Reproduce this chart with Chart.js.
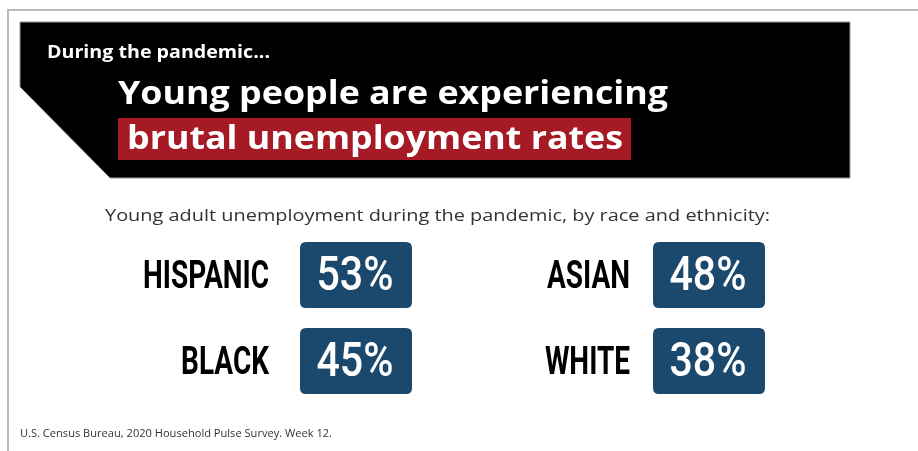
<!DOCTYPE html>
<html>
<head>
<meta charset="utf-8">
<script src="https://cdn.jsdelivr.net/npm/chart.js@4.4.1/dist/chart.umd.min.js"></script>
<style>
  html, body { margin: 0; padding: 0; background: #fff; }
  #wrap { width: 918px; height: 451px; position: relative; }
</style>
</head>
<body>
<div id="wrap"><canvas id="myChart"></canvas></div>
<script>
// data
const groups = ['HISPANIC', 'BLACK', 'ASIAN', 'WHITE'];
const rates = [53, 45, 48, 38];
// where each group sits in the 2x2 grid
const gridCol = [0, 0, 1, 1];
const gridRow = [0, 1, 0, 1];

const kicker = 'During the pandemic...';
const headline1 = 'Young people are experiencing';
const headline2 = 'brutal unemployment rates';
const subtitle = 'Young adult unemployment during the pandemic, by race and ethnicity:';
const source = 'U.S. Census Bureau, 2020 Household Pulse Survey. Week 12.';

const BLUE = '#1b486d';
const RED = '#a51a24';

function roundRect(ctx, x, y, w, h, r) {
    ctx.beginPath();
    ctx.moveTo(x + r, y);
    ctx.lineTo(x + w - r, y);
    ctx.quadraticCurveTo(x + w, y, x + w, y + r);
    ctx.lineTo(x + w, y + h - r);
    ctx.quadraticCurveTo(x + w, y + h, x + w - r, y + h);
    ctx.lineTo(x + r, y + h);
    ctx.quadraticCurveTo(x, y + h, x, y + h - r);
    ctx.lineTo(x, y + r);
    ctx.quadraticCurveTo(x, y, x + r, y);
    ctx.closePath();
}

// stretch/squeeze text horizontally
function squeezeText(ctx, text, x, y, sx, align) {
    const w = ctx.measureText(text).width * sx;
    let left = x;
    if (align === 'right') left = x - w;
    if (align === 'center') left = x - w / 2;
    ctx.save();
    ctx.translate(left, y);
    ctx.scale(sx, 1);
    ctx.textAlign = 'left';
    ctx.fillText(text, 0, 0);
    ctx.restore();
}

function fitText(ctx, text, x, y, width) {
    squeezeText(ctx, text, x, y, width / ctx.measureText(text).width, 'left');
}

const decorPlugin = {
    id: 'decor',
    beforeDraw(chart) {
        const ctx = chart.ctx;
        ctx.save();
        ctx.fillStyle = '#fff';
        ctx.fillRect(0, 0, chart.width, chart.height);

        // frame
        ctx.strokeStyle = '#b9b9b9';
        ctx.lineWidth = 2;
        ctx.beginPath();
        ctx.moveTo(918, 10);
        ctx.lineTo(8, 10);
        ctx.lineTo(8, 451);
        ctx.stroke();

        // black banner with clipped corner
        ctx.fillStyle = '#000';
        ctx.beginPath();
        ctx.moveTo(20, 22);
        ctx.lineTo(850, 22);
        ctx.lineTo(850, 178);
        ctx.lineTo(110, 178);
        ctx.lineTo(20, 87);
        ctx.closePath();
        ctx.fill();
        ctx.strokeStyle = '#9a9a9a';
        ctx.lineWidth = 1;
        ctx.stroke();

        ctx.textBaseline = 'alphabetic';
        ctx.textAlign = 'left';
        ctx.fillStyle = '#fff';
        ctx.font = 'bold 17px "Open Sans"';
        fitText(ctx, kicker, 47, 58, 223);

        ctx.font = 'bold 33px "Open Sans"';
        fitText(ctx, headline1, 118, 104, 550);

        ctx.fillStyle = RED;
        ctx.fillRect(118, 118, 513, 42);
        ctx.fillStyle = '#fff';
        fitText(ctx, headline2, 127, 149, 496);

        ctx.fillStyle = '#333';
        ctx.font = '17px "Open Sans"';
        fitText(ctx, subtitle, 105, 221, 665);

        ctx.font = '10.5px "Open Sans"';
        fitText(ctx, source, 20, 437, 312);
        ctx.restore();
    },
    afterDatasetsDraw(chart) {
        const ctx = chart.ctx;
        const pts = chart.getDatasetMeta(0).data;
        const boxW = 112, boxH = 66;
        const labelGap = [31, 23];
        ctx.save();
        ctx.textBaseline = 'alphabetic';

        ctx.font = 'bold 39px Roboto';
        const labelSx = 126 / ctx.measureText(groups[0]).width;
        ctx.font = '500 48px Roboto';
        const numSx = 77 / ctx.measureText(rates[0] + '%').width;

        pts.forEach((p, i) => {
            const x0 = p.x - boxW / 2;
            const y0 = p.y - boxH / 2;
            ctx.fillStyle = BLUE;
            roundRect(ctx, x0, y0, boxW, boxH, 6);
            ctx.fill();

            ctx.fillStyle = '#fff';
            ctx.font = '500 48px Roboto';
            squeezeText(ctx, rates[i] + '%', p.x - 1, p.y + 15, numSx, 'center');

            ctx.fillStyle = '#000';
            ctx.font = 'bold 39px Roboto';
            squeezeText(ctx, groups[i], x0 - labelGap[gridCol[i]], p.y + 13, labelSx, 'right');
        });
        ctx.restore();
    }
};

const ctx = document.getElementById('myChart').getContext('2d');
const chart = new Chart(ctx, {
    type: 'scatter',
    data: {
        labels: groups,
        datasets: [{
            label: 'Unemployment rate',
            data: groups.map((g, i) => ({ x: gridCol[i], y: gridRow[i], v: rates[i] })),
            pointRadius: 0,
            pointHoverRadius: 0
        }]
    },
    options: {
        responsive: true,
        maintainAspectRatio: false,
        animation: false,
        events: [],
        layout: {
            padding: { left: 356, right: 209, top: 275, bottom: 90 }
        },
        scales: {
            x: { type: 'linear', display: false, min: 0, max: 1 },
            y: { type: 'linear', display: false, min: 0, max: 1, reverse: true }
        },
        plugins: {
            legend: { display: false },
            tooltip: { enabled: false }
        }
    },
    plugins: [decorPlugin]
});
</script>
</body>
</html>
